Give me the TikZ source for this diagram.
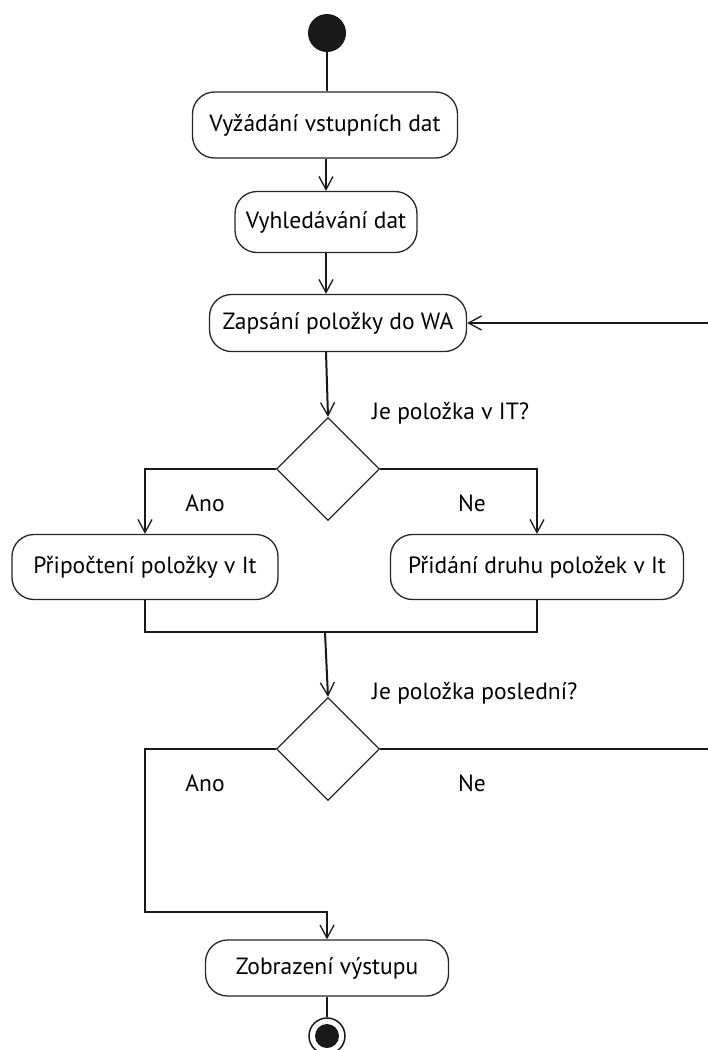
\documentclass[tikz,border=0pt]{standalone}
\usepackage{fontspec}
\setmainfont{PT Sans}
\usetikzlibrary{arrows.meta,shapes.geometric}
\begin{document}
\begin{tikzpicture}[x=1pt,y=-1pt,
  every node/.style={font=\fontsize{23.5}{28}\selectfont, text=black},
  act/.style={draw=black!85, line width=1.3pt, rounded corners=22pt, fill=white, inner sep=0pt},
  decision/.style={diamond, draw=black!85, line width=1.3pt, minimum width=103pt, minimum height=103pt, inner sep=0pt, aspect=1},
  flow/.style={draw=black!90, line width=2pt},
  arr/.style={flow, -{Straight Barb[length=13pt,width=14pt,line width=1.3pt]}},
  lbl/.style={inner sep=0pt}
]
\useasboundingbox (0,0) rectangle (708,1050);
\clip (0,0) rectangle (708,1050);

% initial node
\node[circle, fill=black!90, minimum size=38pt, inner sep=0pt] (start) at (327,33) {};

% actions
\node[act, minimum width=265pt, minimum height=66pt] (a1) at (325,125) {Vyžádání vstupních dat};
\node[act, minimum width=182pt, minimum height=61pt] (a2) at (326,222) {Vyhledávání dat};
\node[act, minimum width=257pt, minimum height=57pt] (a3) at (338,323) {Zapsání položky do WA};
\node[decision] (d1) at (328,469) {};
\node[act, minimum width=266pt, minimum height=65pt] (a4) at (145,567) {Připočtení položky v It};
\node[act, minimum width=293pt, minimum height=65pt] (a5) at (537,567) {Přidání druhu položek v It};
\node[decision] (d2) at (328,749) {};
\node[act, minimum width=243pt, minimum height=56pt] (a6) at (327,968) {Zobrazení výstupu};

% final node
\node[circle, draw=black!90, line width=1.5pt, minimum size=36pt, inner sep=0pt] (end) at (327,1036) {};
\fill[black!90] (end.center) circle (12pt);

% guard labels
\node[lbl, anchor=west] (q1) at (372,413) {Je položka v IT?};
\node[lbl] (y1) at (205,503) {Ano};
\node[lbl] (n1) at (472,503) {Ne};
\node[lbl, anchor=west] (q2) at (372,693) {Je položka poslední?};
\node[lbl] (y2) at (205,783) {Ano};
\node[lbl] (n2) at (472,783) {Ne};

% helper points
\coordinate (m) at (325,632);
\coordinate (k) at (145,912);
\coordinate (r1) at (708,323);
\coordinate (r2) at (708,749);

% connectors
\draw[flow] (start) -- (start |- a1.north);
\draw[arr] (a1.south -| a2.north) -- (a2.north);
\draw[arr] (a2.south) -- (a2.south |- a3.north);
\draw[arr] (a2.south |- a3.south) -- (d1.north);
\draw[arr] (d1.west) -| (a4.north);
\draw[arr] (d1.east) -| (a5.north);
\draw[flow] (a4.south) |- (m) -| (a5.south);
\draw[arr] (m) -- (d2.north);
\draw[arr] (d2.west) -| (k) -| (a6.north);
\draw[flow] (d2.east) -- (r2);
\draw[arr] (r1) -- (a3.east);
\draw[flow] (a6.south) -- (end.north);
\end{tikzpicture}
\end{document}
